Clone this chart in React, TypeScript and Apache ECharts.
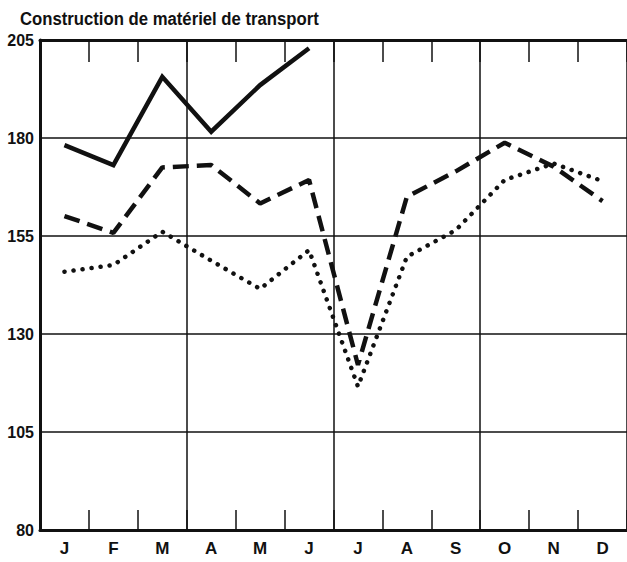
import React, { useEffect, useRef } from "react";
import * as echarts from "echarts";

const months = ["J", "F", "M", "A", "M", "J", "J", "A", "S", "O", "N", "D"];
const solidSeries = [178.2, 173.1, 195.6, 181.6, 193.5, 202.9, null, null, null, null, null, null];
const dashedSeries = [160.1, 155.8, 172.5, 173.1, 163.3, 169.3, 122.1, 165.0, 171.5, 178.8, 172.7, 163.9];
const dottedSeries = [145.9, 147.6, 156.1, 148.7, 141.5, 151.4, 116.6, 149.7, 156.5, 169.3, 173.5, 169.0];
const titleText = "Construction de matériel de transport";
const yMin = 80;
const yMax = 205;
const yStep = 25;

const FONT = "'Liberation Sans', Arial, sans-serif";
const INK = "#111";

export default function App() {
  const ref = useRef<HTMLDivElement>(null);
  useEffect(() => {
    if (!ref.current) return;
    const chart = echarts.init(ref.current, null, { renderer: "svg" });
    chart.setOption({
      animation: false,
      backgroundColor: "#fff",
      graphic: [
        {
          type: "text",
          left: 20,
          top: 9,
          scaleX: 0.88,
          style: {
            text: titleText,
            fontFamily: FONT,
            fontWeight: "bold",
            fontSize: 19,
            fill: INK,
          },
        },
      ],
      grid: { left: 40, top: 40, width: 590, height: 490 },
      xAxis: [
        {
          type: "category",
          data: months,
          boundaryGap: true,
          position: "bottom",
          axisLine: { show: true, lineStyle: { color: INK, width: 3 } },
          axisTick: { show: true, inside: true, length: 20, interval: 0, lineStyle: { color: INK, width: 1.5 } },
          axisLabel: { fontFamily: FONT, fontWeight: "bold", fontSize: 17, color: INK, margin: 10, interval: 0 },
          splitLine: {
            show: true,
            interval: (i: number) => i % 3 === 0,
            lineStyle: { color: INK, width: 1.5 },
          },
        },
        {
          type: "category",
          data: months,
          boundaryGap: true,
          position: "top",
          axisLine: { show: true, lineStyle: { color: INK, width: 3 } },
          axisTick: { show: true, inside: true, length: 22, interval: 0, lineStyle: { color: INK, width: 1.5 } },
          axisLabel: { show: false },
          splitLine: { show: false },
        },
      ],
      yAxis: {
        type: "value",
        min: yMin,
        max: yMax,
        interval: yStep,
        axisLine: { show: true, lineStyle: { color: INK, width: 3 } },
        axisTick: { show: false },
        axisLabel: { fontFamily: FONT, fontWeight: "bold", fontSize: 16, color: INK, margin: 6 },
        splitLine: { show: true, lineStyle: { color: INK, width: 1.5 } },
      },
      series: [
        {
          type: "line",
          data: solidSeries,
          symbol: "none",
          lineStyle: { color: INK, width: 4.5, join: "miter" },
        },
        {
          type: "line",
          data: dashedSeries,
          symbol: "none",
          lineStyle: { color: INK, width: 4.5, type: [16, 8] },
        },
        {
          type: "line",
          data: dottedSeries,
          symbol: "none",
          lineStyle: { color: INK, width: 4.5, type: [0.1, 9], cap: "round" },
        },
      ],
    });
    return () => chart.dispose();
  }, []);
  return (
    <div
      ref={ref}
      style={{ position: "fixed", left: 0, top: 0, width: 627, height: 562 }}
    />
  );
}
